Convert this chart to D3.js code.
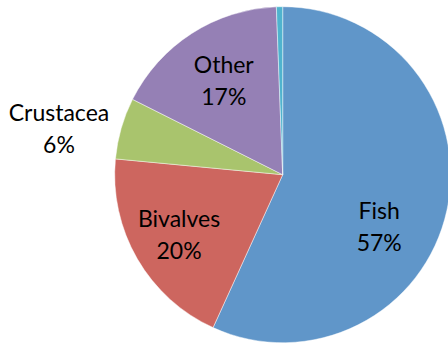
<!DOCTYPE html>
<html>
<head>
<meta charset="utf-8">
<script src="https://cdn.jsdelivr.net/npm/d3@7/dist/d3.min.js"></script>
<style>
  html, body { margin: 0; padding: 0; background: #fff; }
  svg { display: block; }
</style>
</head>
<body>
<script>
// ---- data ----
const categories = ["Fish", "Bivalves", "Crustacea", "Other", "Unspecified"];
const values = [56.8, 19.7, 5.9, 17.0, 0.6];
const percentLabels = ["57%", "20%", "6%", "17%", ""];
const colors = ["#6096C9", "#CD665F", "#A9C46D", "#9580B5", "#4FB3CE"];

// ---- layout ----
const W = 448, H = 343;
const cx = 282.7, cy = 174.7, R = 168;
// label placement: angle (deg, clockwise from 12 o'clock) and distance from centre
const labelLayout = [
  { angle: 121.8, dist: 113.6 },
  { angle: 236.8, dist: 123.9 },
  { angle: 279.6, dist: 226.9 },
  { angle: 325.4, dist: 103.8 },
  null
];

const svg = d3.select("body").append("svg")
  .attr("width", W).attr("height", H);

const g = svg.append("g").attr("transform", `translate(${cx},${cy})`);

const pie = d3.pie().sort(null).value(d => d)(values);
const arc = d3.arc().innerRadius(0).outerRadius(R);

g.selectAll("path.slice")
  .data(pie)
  .join("path")
  .attr("class", "slice")
  .attr("d", arc)
  .attr("fill", (d, i) => colors[i])
  .attr("stroke", "#ffffff")
  .attr("stroke-opacity", 0.6)
  .attr("stroke-width", 0.75);

const labels = g.selectAll("text.lbl")
  .data(pie.filter((d, i) => labelLayout[i]))
  .join("text")
  .attr("class", "lbl")
  .attr("text-anchor", "middle")
  .attr("font-family", "Lato, 'Open Sans', sans-serif")
  .attr("font-size", 23)
  .attr("fill", "#000");

labels.each(function(d) {
  const i = d.index;
  const L = labelLayout[i];
  const a = L.angle * Math.PI / 180;
  const x = Math.sin(a) * L.dist;
  const y = -Math.cos(a) * L.dist;
  const t = d3.select(this);
  t.append("tspan").attr("x", x).attr("y", y - 16).text(categories[i]);
  t.append("tspan").attr("x", x).attr("y", y + 16).text(percentLabels[i]);
});
</script>
</body>
</html>
